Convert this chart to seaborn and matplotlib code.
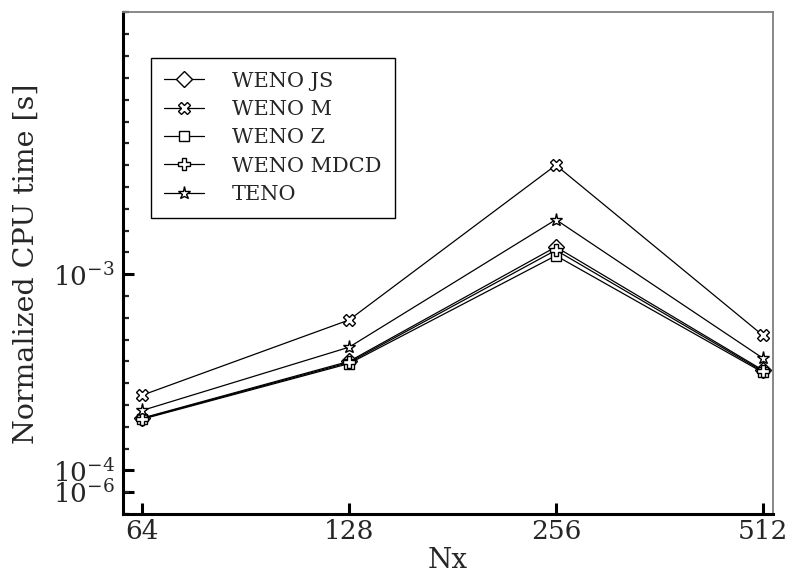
import numpy as np
import pandas as pd
import matplotlib
matplotlib.use("Agg")
import matplotlib.pyplot as plt
import seaborn as sns
from matplotlib.ticker import FixedLocator, FixedFormatter, MultipleLocator

# ---- data ----
nx = [64, 128, 256, 512]
weno_js = [3.40e-4, 6.00e-4, 1.125e-3, 5.60e-4]
weno_m = [4.45e-4, 7.90e-4, 1.50e-3, 7.20e-4]
weno_z = [3.35e-4, 5.90e-4, 1.085e-3, 5.50e-4]
weno_mdcd = [3.38e-4, 5.95e-4, 1.11e-3, 5.55e-4]
teno = [3.75e-4, 6.65e-4, 1.25e-3, 6.15e-4]
labels = ["WENO JS", "WENO M", "WENO Z", "WENO MDCD", "TENO"]
series = [weno_js, weno_m, weno_z, weno_mdcd, teno]
ytick_vals = [1e-6, 1e-4, 1e-3]
ytick_labels = [r"$10^{-6}$", r"$10^{-4}$", r"$10^{-3}$"]
xtick_labels = ["64", "128", "256", "512"]

markers = ["D", "X", "s", "P", "*"]
msizes = [8.5, 9, 7, 8, 9.5]

sns.set_style("ticks")
plt.rcParams["font.family"] = ["DejaVu Serif"]
plt.rcParams["mathtext.fontset"] = "dejavuserif"

fig = plt.figure(figsize=(7.9, 5.78), dpi=100)
ax = fig.add_axes([0.1557, 0.1107, 0.8228, 0.8677])

for lab, vals, mk, ms in zip(labels, series, markers, msizes):
    df = pd.DataFrame({"Nx": nx, "t": vals})
    sns.lineplot(data=df, x="Nx", y="t", ax=ax, color="black", lw=0.9,
                 marker=mk, markersize=ms, markerfacecolor="white",
                 markeredgecolor="black", markeredgewidth=1.0, label=lab)

ax.set_xscale("log", base=2)
ax.set_xlim(60, 530)
ax.set_ylim(-1e-4, 2.2e-3)
ax.xaxis.set_major_locator(FixedLocator(nx))
ax.xaxis.set_major_formatter(FixedFormatter(xtick_labels))
ax.xaxis.set_minor_locator(FixedLocator([]))
ax.yaxis.set_major_locator(FixedLocator(ytick_vals))
ax.yaxis.set_major_formatter(FixedFormatter(ytick_labels))
ax.yaxis.set_minor_locator(MultipleLocator(1e-4))

ax.tick_params(axis="both", which="major", direction="in", length=8, width=2.2,
               labelsize=19, color="black")
ax.tick_params(axis="y", which="minor", direction="in", length=4, width=1.6)
ax.tick_params(axis="y", which="major", pad=6)

for side in ["left", "bottom"]:
    ax.spines[side].set_linewidth(2.2)
    ax.spines[side].set_color("black")
for side in ["top", "right"]:
    ax.spines[side].set_visible(True)
    ax.spines[side].set_linewidth(1.3)
    ax.spines[side].set_color("#7f7f7f")

ax.set_xlabel("Nx", fontsize=20, labelpad=2)
ax.set_ylabel("Normalized CPU time [s]", fontsize=20.5, labelpad=9)

leg = ax.legend(loc="upper left", bbox_to_anchor=(0.043, 0.909), borderaxespad=0,
                fontsize=15, frameon=True, fancybox=False, edgecolor="black",
                framealpha=1, handlelength=1.9, labelspacing=0.45,
                borderpad=0.65, handletextpad=1.35)
leg.get_frame().set_linewidth(1.0)

fig.savefig("out.png", dpi=100)
